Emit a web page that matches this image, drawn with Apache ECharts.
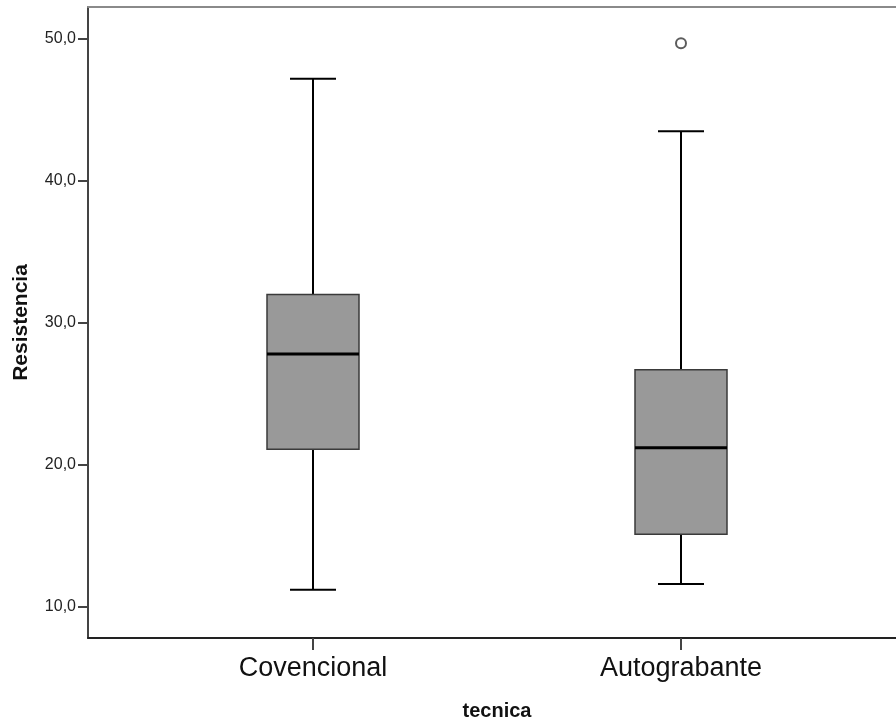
<!DOCTYPE html>
<html>
<head>
<meta charset="utf-8">
<script src="https://cdn.jsdelivr.net/npm/echarts@6/dist/echarts.min.js"></script>
<style>
html,body{margin:0;padding:0;background:#fff;}
#chart{width:896px;height:722px;}
</style>
</head>
<body>
<div id="chart"></div>
<script>
// ---- data ----
const categories = ['Covencional', 'Autograbante'];
// [min whisker, Q1, median, Q3, max whisker]
const boxCovencional = [11.2, 21.1, 27.8, 32.0, 47.2];
const boxAutograbante = [11.6, 15.1, 21.2, 26.7, 43.5];
const outliers = [[1, 49.7]];
const yTicks = [10, 20, 30, 40, 50];
const yMin = 7.8, yMax = 52.25;

const boxData = [boxCovencional, boxAutograbante].map((b, i) => [i].concat(b));
const FONT = '"Liberation Sans", Arial, sans-serif';

const chart = echarts.init(document.getElementById('chart'));
chart.setOption({
  animation: false,
  backgroundColor: '#fff',
  grid: [
    {left: 88, width: 840, top: 7, bottom: 84, show: false, containLabel: false, outerBoundsMode: 'none'},
    {left: 129, right: 31, top: 7, bottom: 84, containLabel: false, outerBoundsMode: 'none'}
  ],
  xAxis: [
    {type: 'value', gridIndex: 0, min: 0, max: 1, position: 'bottom',
     axisLine: {show: true, onZero: false, lineStyle: {color: '#222', width: 2}},
     axisTick: {show: false}, axisLabel: {show: false}, splitLine: {show: false}},
    {type: 'category', gridIndex: 1, data: categories, boundaryGap: true,
     axisLine: {show: false},
     axisTick: {show: true, alignWithLabel: true, length: 12, lineStyle: {color: '#444', width: 2}},
     axisLabel: {show: true, margin: 17, fontSize: 27, color: '#111', fontFamily: FONT},
     splitLine: {show: false},
     name: 'tecnica', nameLocation: 'middle', nameGap: 63,
     nameTextStyle: {fontSize: 20, fontWeight: 'bold', color: '#111', fontFamily: FONT}},
    {type: 'value', gridIndex: 0, min: 0, max: 1, position: 'top',
     axisLine: {show: true, onZero: false, lineStyle: {color: '#8a8a8a', width: 2}},
     axisTick: {show: false}, axisLabel: {show: false}, splitLine: {show: false}}
  ],
  yAxis: [
    {type: 'value', gridIndex: 0, min: yMin, max: yMax,
     axisLine: {show: true, onZero: false, lineStyle: {color: '#444', width: 2}},
     axisTick: {show: true, length: 10, customValues: yTicks, lineStyle: {color: '#444', width: 2}},
     axisLabel: {show: true, margin: 12, fontSize: 16, color: '#222', fontFamily: FONT,
       customValues: yTicks,
       formatter: v => v.toFixed(1).replace('.', ',')},
     splitLine: {show: false},
     name: 'Resistencia', nameLocation: 'middle', nameGap: 56, nameRotate: 90,
     nameTextStyle: {fontSize: 21, fontWeight: 'bold', color: '#111', fontFamily: FONT}},
    {type: 'value', gridIndex: 1, min: yMin, max: yMax, show: false,
     splitLine: {show: false}}
  ],
  series: [
    {
      type: 'custom', xAxisIndex: 1, yAxisIndex: 1,
      data: boxData,
      encode: {x: 0, y: [1, 2, 3, 4, 5]},
      renderItem: function (params, api) {
        const idx = api.value(0);
        const band = api.size([1, 0])[0];
        const bw = band * 0.25;
        const cx = api.coord([idx, api.value(3)])[0];
        const y = k => api.coord([idx, api.value(k)])[1];
        const yLo = y(1), yQ1 = y(2), yMed = y(3), yQ3 = y(4), yHi = y(5);
        const half = bw / 2, cap = bw / 4;
        const black = {stroke: '#000', lineWidth: 2};
        return {
          type: 'group',
          children: [
            {type: 'line', shape: {x1: cx, y1: yHi, x2: cx, y2: yQ3}, style: black},
            {type: 'line', shape: {x1: cx, y1: yQ1, x2: cx, y2: yLo}, style: black},
            {type: 'line', shape: {x1: cx - cap, y1: yHi, x2: cx + cap, y2: yHi}, style: black},
            {type: 'line', shape: {x1: cx - cap, y1: yLo, x2: cx + cap, y2: yLo}, style: black},
            {type: 'rect', shape: {x: cx - half, y: yQ3, width: bw, height: yQ1 - yQ3},
             style: {fill: '#999999', stroke: '#3a3a3a', lineWidth: 1.5}},
            {type: 'line', shape: {x1: cx - half, y1: yMed, x2: cx + half, y2: yMed},
             style: {stroke: '#000', lineWidth: 3}}
          ]
        };
      }
    },
    {
      type: 'scatter', xAxisIndex: 1, yAxisIndex: 1,
      data: outliers, symbol: 'circle', symbolSize: 10,
      itemStyle: {color: '#fff', borderColor: '#333', borderWidth: 2}
    }
  ]
});
</script>
</body>
</html>
